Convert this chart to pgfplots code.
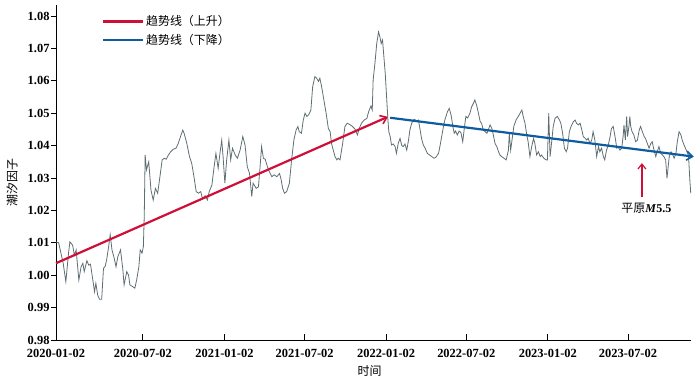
\documentclass[border=0pt]{standalone}
\usepackage{pgfplots}
\pgfplotsset{compat=1.18}
\usepackage{pgfplotstable}
\usetikzlibrary{arrows.meta}
\usepackage{fontspec}
\setmainfont{Liberation Serif}
\newfontfamily\cjk{Noto Sans CJK SC}
\definecolor{series}{RGB}{95,110,115}
\definecolor{trendred}{RGB}{206,16,56}
\definecolor{trendblue}{RGB}{14,92,160}

% x = day index along the time axis (0 = 2020-01-02), y = tidal factor
\pgfplotstableread{
x y
0 1.0103
6 1.0100
11 1.0068
16 1.0037
22 0.9980
28 1.0068
31 1.0103
37 1.0093
41 1.0062
45 1.0078
51 0.9985
56 1.0026
60 1.0037
63 1.0011
69 1.0045
73 1.0031
77 1.0034
80 1.0006
86 0.9949
89 0.9975
93 0.9939
97 0.9926
102 0.9926
106 1.0021
110 1.0028
113 1.0047
117 1.0083
121 1.0125
125 1.0078
130 1.0052
134 1.0026
138 1.0057
144 1.0078
149 1.0021
152 0.9970
158 1.0011
162 1.0000
165 0.9970
171 0.9965
176 0.9960
180 0.9985
185 1.0026
188 1.0078
192 1.0068
195 1.0088
197 1.0181
199 1.0371
202 1.0325
207 1.0350
212 1.0263
217 1.0232
222 1.0268
227 1.0253
232 1.0304
237 1.0356
242 1.0361
246 1.0358
251 1.0371
256 1.0381
262 1.0389
268 1.0392
273 1.0407
278 1.0428
283 1.0448
286 1.0438
292 1.0407
298 1.0366
303 1.0345
308 1.0304
313 1.0258
318 1.0253
323 1.0258
327 1.0237
333 1.0245
338 1.0232
342 1.0258
348 1.0278
353 1.0335
357 1.0376
362 1.0330
366 1.0376
370 1.0417
373 1.0366
377 1.0284
381 1.0356
386 1.0417
390 1.0356
394 1.0392
400 1.0371
405 1.0361
411 1.0386
417 1.0428
422 1.0402
427 1.0335
432 1.0314
437 1.0243
440 1.0284
447 1.0268
452 1.0273
455 1.0325
459 1.0397
463 1.0361
467 1.0358
472 1.0335
476 1.0320
482 1.0304
487 1.0310
493 1.0304
499 1.0314
502 1.0299
506 1.0268
510 1.0253
515 1.0258
521 1.0284
526 1.0356
531 1.0417
536 1.0448
540 1.0459
543 1.0443
548 1.0438
552 1.0479
556 1.0500
560 1.0490
564 1.0495
569 1.0510
573 1.0582
578 1.0613
582 1.0608
586 1.0598
589 1.0608
593 1.0582
598 1.0541
603 1.0500
608 1.0453
612 1.0443
615 1.0407
619 1.0386
623 1.0366
627 1.0356
630 1.0361
634 1.0356
640 1.0407
645 1.0459
650 1.0469
656 1.0465
662 1.0459
667 1.0452
673 1.0433
677 1.0453
682 1.0469
688 1.0479
694 1.0484
698 1.0505
703 1.0522
706 1.0510
708 1.0602
712 1.0654
716 1.0715
720 1.0751
723 1.0736
726 1.0715
729 1.0726
732 1.0674
735 1.0623
738 1.0551
741 1.0479
743 1.0443
746 1.0428
749 1.0402
753 1.0405
757 1.0397
760 1.0376
764 1.0407
768 1.0422
772 1.0400
775 1.0397
779 1.0405
783 1.0386
787 1.0417
790 1.0448
794 1.0469
798 1.0479
801 1.0481
805 1.0475
809 1.0479
813 1.0448
816 1.0422
820 1.0402
824 1.0392
829 1.0376
833 1.0372
839 1.0366
844 1.0361
848 1.0364
854 1.0376
857 1.0397
861 1.0428
865 1.0459
868 1.0479
874 1.0505
878 1.0515
882 1.0494
886 1.0459
889 1.0438
892 1.0445
896 1.0433
900 1.0445
904 1.0440
908 1.0412
912 1.0459
915 1.0490
919 1.0485
924 1.0500
928 1.0520
932 1.0531
935 1.0541
939 1.0525
943 1.0500
947 1.0474
950 1.0469
954 1.0448
958 1.0443
962 1.0438
965 1.0448
969 1.0464
973 1.0453
977 1.0428
980 1.0407
984 1.0397
988 1.0381
991 1.0371
995 1.0366
1000 1.0361
1005 1.0356
1010 1.0386
1012 1.0438
1015 1.0386
1018 1.0417
1022 1.0459
1027 1.0479
1032 1.0490
1036 1.0500
1040 1.0510
1043 1.0490
1047 1.0469
1051 1.0433
1054 1.0412
1058 1.0366
1062 1.0397
1066 1.0422
1069 1.0407
1073 1.0371
1077 1.0381
1081 1.0366
1084 1.0371
1089 1.0361
1094 1.0356
1097 1.0356
1100 1.0500
1103 1.0366
1107 1.0417
1110 1.0459
1114 1.0484
1119 1.0490
1124 1.0479
1127 1.0469
1131 1.0438
1135 1.0392
1139 1.0381
1142 1.0392
1146 1.0443
1150 1.0460
1155 1.0474
1159 1.0479
1162 1.0469
1166 1.0464
1170 1.0469
1174 1.0448
1177 1.0428
1181 1.0423
1185 1.0417
1188 1.0423
1192 1.0407
1196 1.0417
1199 1.0443
1203 1.0417
1207 1.0366
1211 1.0397
1214 1.0381
1218 1.0392
1222 1.0366
1225 1.0356
1229 1.0386
1233 1.0402
1237 1.0428
1240 1.0453
1244 1.0459
1248 1.0428
1252 1.0392
1255 1.0397
1259 1.0386
1263 1.0392
1266 1.0428
1268 1.0464
1271 1.0417
1274 1.0490
1276 1.0428
1279 1.0459
1281 1.0490
1283 1.0459
1286 1.0443
1290 1.0433
1294 1.0412
1298 1.0417
1302 1.0448
1305 1.0459
1309 1.0443
1313 1.0428
1316 1.0422
1320 1.0407
1324 1.0392
1328 1.0407
1331 1.0412
1335 1.0386
1339 1.0366
1342 1.0381
1346 1.0397
1350 1.0376
1354 1.0371
1357 1.0366
1361 1.0356
1364 1.0299
1369 1.0366
1373 1.0381
1377 1.0371
1380 1.0361
1384 1.0376
1387 1.0412
1391 1.0443
1395 1.0433
1398 1.0417
1402 1.0402
1407 1.0386
1412 1.0371
1415 1.0294
1417 1.0253
}\tidal

\begin{document}
\begin{tikzpicture}
\begin{axis}[
  name=ax,
  at={(0,0)}, anchor=south west,
  scale only axis,
  width=635bp, height=335bp,
  xmin=0, xmax=1417.6,
  ymin=0.98, ymax=1.0834,
  axis lines=left,
  axis line style={-, line width=0.9bp, black},
  xtick={0,194,376,555,737,916,1098,1277},
  xticklabels={2020-01-02,2020-07-02,2021-01-02,2021-07-02,2022-01-02,2022-07-02,2023-01-02,2023-07-02},
  ytick={0.98,0.99,1.00,1.01,1.02,1.03,1.04,1.05,1.06,1.07,1.08},
  yticklabels={0.98,0.99,1.00,1.01,1.02,1.03,1.04,1.05,1.06,1.07,1.08},
  tick align=inside,
  major tick length=6bp,
  tick style={black, line width=0.9bp},
  ytick style={xshift=-5bp},
  tick label style={font=\fontsize{12.5}{14}\selectfont\bfseries},
  xticklabel style={yshift=-6bp},
  yticklabel style={xshift=-3bp},
  xlabel={\cjk 时间},
  xlabel style={at={(axis description cs:0.494,-0.092)}, anchor=center, font=\fontsize{12}{14}\selectfont},
  ylabel={\cjk 潮汐因子},
  ylabel style={at={(axis description cs:-0.069,0.47)}, anchor=center, font=\fontsize{12}{14}\selectfont},
  clip=false,
  legend style={at={(axis description cs:0.072,0.975)}, anchor=north west, draw=none, fill=none,
    font=\cjk\fontsize{12}{14}\selectfont, row sep=3bp, inner sep=0pt,
    /tikz/every even column/.append style={column sep=4bp}},
  legend cell align=left,
  legend image code/.code={\draw[#1,-] (0bp,0bp) -- (40bp,0bp);},
]
\addplot[series, line width=0.8bp, forget plot] table[x=x,y=y] {\tidal};
\addplot[trendred, line width=2.2bp, -{Straight Barb[length=6bp,width=9bp,line width=1.6bp]}] coordinates {(0,1.0037) (741,1.0489)};
\addlegendentry{趋势线（上升）}
\addplot[trendblue, line width=2.2bp, -{Straight Barb[length=6bp,width=9bp,line width=1.6bp]}] coordinates {(746,1.0486) (1424,1.0366)};
\addlegendentry{趋势线（下降）}
\addplot[trendred, line width=1.3bp, forget plot, -{Straight Barb[length=5bp,width=8bp,line width=1.2bp]}] coordinates {(1308,1.0242) (1308,1.0346)};
\node[font=\fontsize{12}{14}\selectfont, inner sep=0pt] at (axis cs:1318,1.0207) {{\cjk 平原}\textbf{\textit{M}5.5}};
\end{axis}
\pgfresetboundingbox
\path[use as bounding box] (ax.south west) ++(-56bp,-40bp) rectangle ++(700bp,380bp);
\end{tikzpicture}
\end{document}
